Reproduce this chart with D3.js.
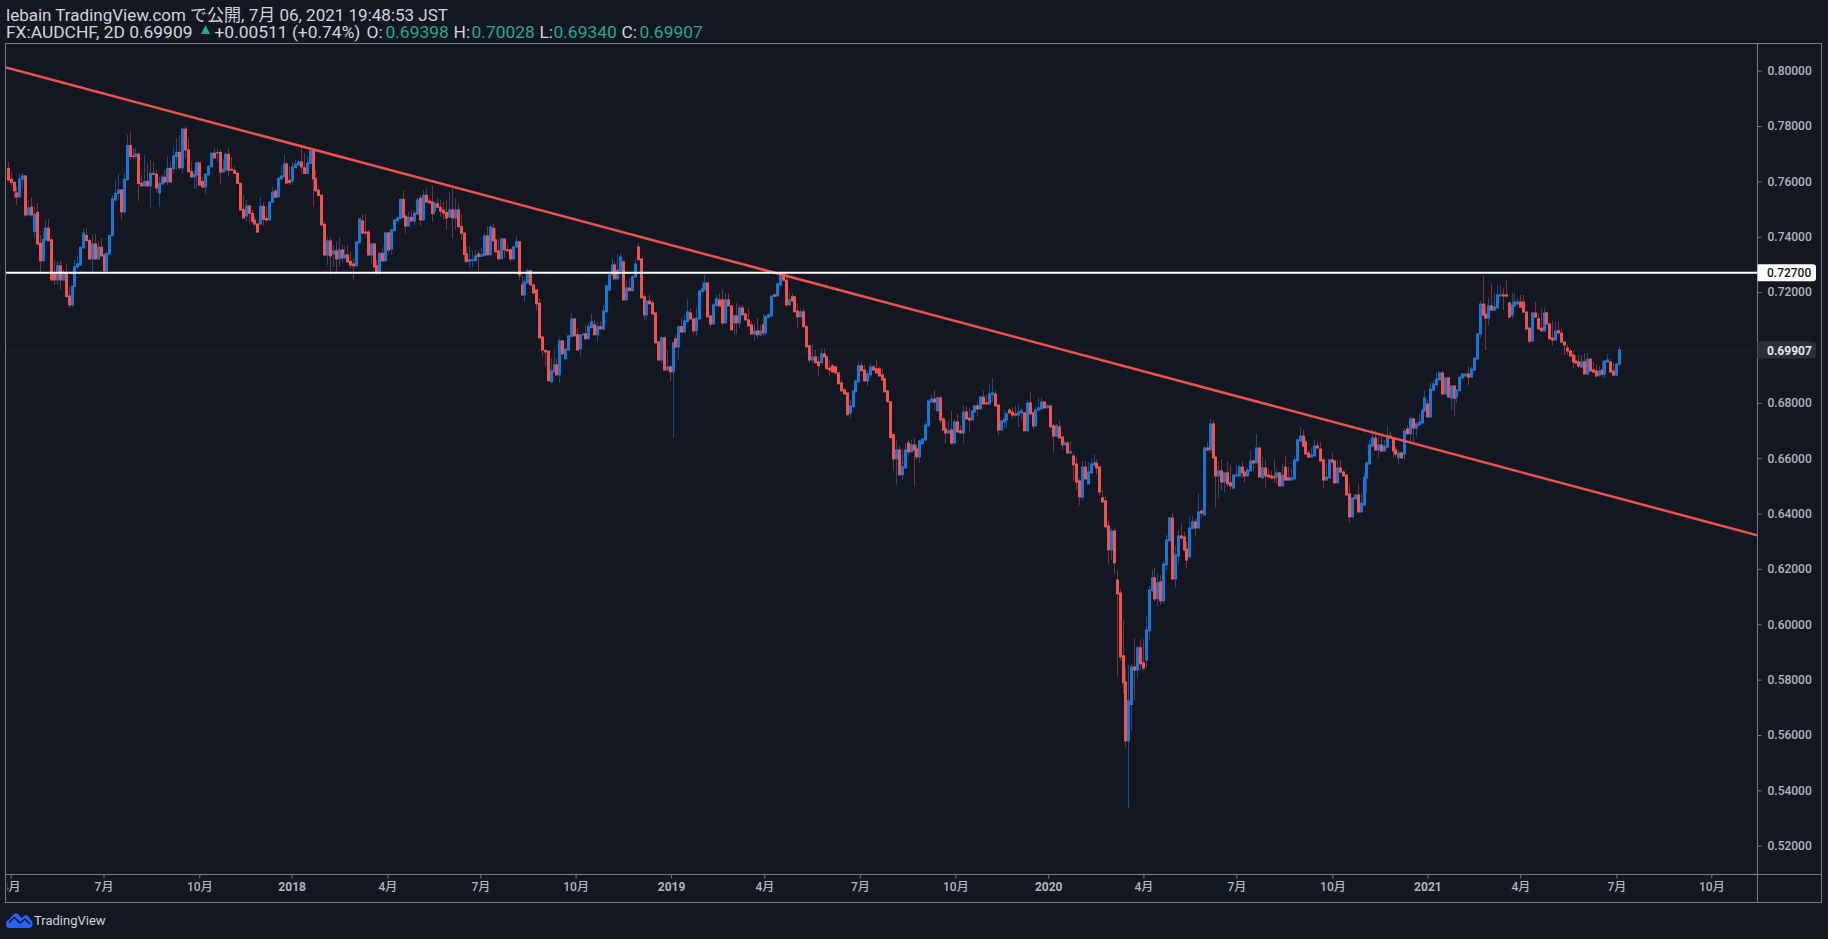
<!DOCTYPE html>
<html>
<head>
<meta charset="utf-8">
<script src="https://cdn.jsdelivr.net/npm/d3@7"></script>
<style>
  html, body { margin: 0; padding: 0; background: #131722; overflow: hidden; }
  text { font-family: Roboto, "Noto Sans CJK JP", sans-serif; }
</style>
</head>
<body>
<div id="chart"></div>
<script>
// two-day bars, oldest first
const opens = [
.7647,.7608,.7597,.7558,.7544,.7608,.7620,.7479,.7507,.7419,
.7488,.7377,.7313,.7389,.7431,.7389,.7271,.7244,.7295,.7244,
.7268,.7186,.7154,.7220,.7291,.7298,.7360,.7405,.7386,.7320,
.7374,.7320,.7362,.7334,.7277,.7338,.7404,.7533,.7557,.7569,
.7490,.7606,.7730,.7692,.7690,.7699,.7593,.7584,.7600,.7584,
.7629,.7626,.7558,.7591,.7615,.7598,.7647,.7646,.7690,.7705,
.7649,.7789,.7714,.7635,.7616,.7623,.7667,.7600,.7580,.7623,
.7653,.7702,.7702,.7705,.7634,.7641,.7698,.7644,.7640,.7629,
.7593,.7499,.7475,.7511,.7485,.7460,.7446,.7446,.7510,.7466,
.7461,.7525,.7565,.7544,.7609,.7617,.7663,.7604,.7602,.7650,
.7659,.7670,.7649,.7629,.7665,.7710,.7611,.7568,.7550,.7445,
.7334,.7385,.7338,.7349,.7320,.7352,.7324,.7334,.7311,.7302,
.7295,.7378,.7457,.7417,.7417,.7334,.7374,.7295,.7271,.7340,
.7313,.7414,.7356,.7422,.7458,.7466,.7535,.7474,.7439,.7470,
.7457,.7482,.7539,.7461,.7550,.7529,.7525,.7493,.7519,.7507,
.7496,.7488,.7472,.7497,.7468,
.7497,.7437,.7413,.7338,.7312,.7314,.7314,.7338,.7329,.7332,
.7403,.7335,.7431,.7389,.7349,.7320,.7392,.7353,.7353,.7320,
.7363,.7382,.7226,.7190,.7233,.7277,.7226,.7208,.7160,.7038,
.6989,.6987,.6876,.6912,.6937,.6901,.7024,.6959,.6991,.7040,
.7103,.7046,.6995,.7046,.7049,.7031,.7072,.7082,.7046,.7075,
.7067,.7129,.7208,.7262,.7298,.7248,.7277,.7309,.7172,.7215,
.7205,.7255,.7363,.7320,.7183,.7118,.7168,.7161,.7125,.7020,
.6955,.7035,.6919,.6930,.6912,.7031,.7002,.7075,.7056,.7094,
.7125,.7103,.7060,.7103,.7202,.7208,.7233,.7114,.7085,.7151,
.7172,.7172,.7089,.7172,.7150,.7089,.7114,.7089,.7143,.7121,
.7100,.7082,.7049,.7060,.7046,.7082,.7053,.7109,.7114,.7190,
.7186,.7226,.7259,.7243,.7154,.7183,.7183,.7132,.7111,.7129,
.7075,.7006,.6955,.6966,.6948,.6945,.6977,.6966,.6926,.6934,
.6930,.6908,.6872,.6847,.6836,.6764,.6786,.6840,.6876,.6934,
.6919,.6879,.6901,.6930,.6923,.6923,.6901,.6887,.6843,.6804,
.6685,.6598,
.6630,.6540,.6565,.6655,.6623,.6648,.6634,.6605,.6652,.6666,
.6717,.6803,.6814,.6771,.6818,.6742,.6706,.6691,.6702,.6655,
.6731,.6699,.6691,.6767,.6745,.6738,.6767,.6789,.6778,.6821,
.6800,.6796,.6829,.6832,.6792,.6702,.6731,.6738,.6774,.6767,
.6760,.6756,.6764,.6764,.6699,.6800,.6764,.6717,.6774,.6778,
.6803,.6782,.6789,.6717,.6680,.6713,.6677,.6648,.6655,.6619,
.6608,.6579,.6518,.6460,.6568,.6507,.6547,.6576,.6583,.6568,
.6457,.6446,.6355,.6269,.6337,.6160,.6113,.5886,.5792,.5579,
.5710,.5846,.5835,.5915,.5861,.5871,.5976,.6121,.6168,.6092,
.6153,.6085,.6215,.6301,.6384,.6164,.6247,
.6319,.6315,.6272,.6243,.6346,.6370,.6348,.6409,.6395,.6637,
.6630,.6724,.6604,.6536,.6554,.6514,.6547,.6511,.6492,.6536,
.6536,.6568,.6550,.6536,.6554,.6590,.6583,.6637,.6529,.6565,
.6539,.6536,.6532,.6532,.6547,.6500,.6568,.6529,.6521,.6525,
.6590,.6662,.6680,.6659,.6619,.6604,.6608,.6644,.6633,.6594,
.6521,.6529,.6594,.6590,.6511,.6565,.6550,.6539,.6471,.6388,
.6453,.6467,.6406,.6431,.6529,.6579,.6644,.6673,.6630,.6648,
.6626,.6640,.6680,.6673,.6630,.6601,.6619,.6615,.6706,.6688,
.6742,.6709,.6720,.6727,.6771,.6796,.6749,.6846,.6865,.6883,
.6908,.6832,.6890,.6817,.6861,.6821,.6844,.6890,.6897,.6904,
.6893,.6919,.6958,.7049,.7157,.7121,.7106,.7150,.7135,.7143,
.7186,.7190,.7190,.7161,.7117,.7150,.7157,.7164,.7164,.7128,
.7070,.7023,.7125,.7103,.7070,.7060,.7125,.7085,.7034,.7027,
.7060,.7052,.7020,.6998,.6987,.6973,.6951,.6948,.6929,.6948,
.6904,.6958,.6919,.6915,.6900,.6919,.6904,.6948,.6948,.6915,
.6900,.69398];
const highs = [
.7671,.7635,.7599,.7581,.7629,.7632,.7623,.7533,.7543,.7509,
.7521,.7407,.7419,.7461,.7464,.7395,.7319,.7310,.7316,.7280,
.7302,.7220,.7224,.7316,.7334,.7367,.7431,.7434,.7395,.7407,
.7410,.7383,.7395,.7340,.7343,.7407,.7551,.7608,.7629,.7572,
.7629,.7768,.7780,.7720,.7723,.7702,.7623,.7696,.7665,.7678,
.7671,.7641,.7617,.7623,.7641,.7690,.7671,.7726,.7756,.7768,
.7793,.7798,.7756,.7671,.7641,.7668,.7671,.7615,.7629,.7659,
.7704,.7720,.7720,.7716,.7680,.7704,.7720,.7687,.7653,.7635,
.7596,.7551,.7533,.7515,.7497,.7473,.7451,.7543,.7527,.7509,
.7527,.7581,.7575,.7615,.7659,.7696,.7668,.7653,.7671,.7678,
.7680,.7723,.7702,.7690,.7714,.7714,.7641,.7575,.7552,.7455,
.7401,.7398,.7370,.7383,.7398,.7370,.7364,.7370,.7346,.7322,
.7384,.7467,.7482,.7479,.7425,.7376,.7376,.7316,.7346,.7358,
.7419,.7416,.7427,.7463,.7473,.7539,.7567,.7479,.7491,.7497,
.7497,.7543,.7551,.7569,.7575,.7539,.7584,.7527,.7539,.7533,
.7527,.7533,.7563,.7575,.7539,
.7521,.7479,.7419,.7365,.7367,.7350,.7353,.7350,.7359,.7413,
.7437,.7444,.7447,.7431,.7391,.7395,.7395,.7374,.7359,.7367,
.7403,.7384,.7262,.7256,.7286,.7280,.7232,.7211,.7178,.7042,
.6994,.6989,.6961,.6989,.6961,.7034,.7025,.6997,.7046,.7124,
.7106,.7073,.7048,.7054,.7082,.7088,.7121,.7102,.7094,.7094,
.7154,.7226,.7268,.7322,.7310,.7340,.7343,.7317,.7244,.7250,
.7262,.7317,.7379,.7323,.7196,.7172,.7190,.7172,.7127,.7023,
.7040,.7040,.6989,.6936,.7019,.7046,.7077,.7106,.7118,.7174,
.7142,.7112,.7145,.7208,.7238,.7262,.7236,.7118,.7160,.7190,
.7194,.7211,.7198,.7196,.7153,.7121,.7160,.7154,.7154,.7126,
.7142,.7094,.7088,.7106,.7082,.7121,.7118,.7124,.7190,.7194,
.7235,.7266,.7262,.7262,.7202,.7196,.7185,.7157,.7142,.7142,
.7082,.7008,.7009,.6991,.6967,.6997,.6997,.6973,.6955,.6941,
.6934,.6911,.6883,.6853,.6839,.6811,.6847,.6883,.6949,.6949,
.6937,.6917,.6943,.6937,.6955,.6931,.6925,.6889,.6846,.6806,
.6687,.6666,
.6644,.6636,.6656,.6666,.6668,.6672,.6648,.6666,.6672,.6732,
.6813,.6829,.6847,.6823,.6825,.6748,.6735,.6735,.6771,.6741,
.6760,.6720,.6792,.6786,.6780,.6774,.6792,.6804,.6825,.6843,
.6829,.6865,.6889,.6843,.6795,.6738,.6774,.6768,.6780,.6784,
.6789,.6796,.6780,.6766,.6813,.6839,.6768,.6789,.6820,.6820,
.6806,.6796,.6791,.6724,.6724,.6736,.6679,.6662,.6662,.6660,
.6618,.6603,.6528,.6590,.6590,.6587,.6600,.6615,.6597,.6571,
.6485,.6461,.6379,.6347,.6347,.6196,.6128,.6016,.5840,.5853,
.5857,.5950,.5922,.5944,.5946,.6030,.6139,.6196,.6206,.6184,
.6178,.6227,.6323,.6387,.6401,.6283,.6341,
.6365,.6335,.6299,.6389,.6391,.6383,.6473,.6413,.6642,.6660,
.6741,.6738,.6607,.6588,.6594,.6548,.6588,.6575,.6543,.6575,
.6575,.6588,.6555,.6567,.6630,.6596,.6688,.6639,.6606,.6594,
.6563,.6557,.6596,.6563,.6551,.6579,.6606,.6570,.6563,.6606,
.6672,.6712,.6702,.6668,.6630,.6639,.6666,.6660,.6660,.6600,
.6581,.6596,.6620,.6592,.6594,.6594,.6555,.6542,.6507,.6459,
.6471,.6507,.6473,.6545,.6588,.6666,.6702,.6700,.6678,.6680,
.6666,.6716,.6696,.6675,.6642,.6630,.6624,.6708,.6720,.6750,
.6743,.6732,.6760,.6780,.6846,.6810,.6876,.6882,.6909,.6913,
.6915,.6892,.6892,.6863,.6863,.6849,.6896,.6907,.6907,.6931,
.6931,.6964,.7051,.7169,.7258,.7153,.7181,.7229,.7196,.7226,
.7226,.7214,.7241,.7162,.7196,.7198,.7178,.7190,.7190,.7131,
.7073,.7127,.7165,.7123,.7141,.7144,.7127,.7090,.7097,.7093,
.7097,.7069,.7022,.7009,.6997,.6988,.6973,.6973,.6973,.6979,
.6981,.6961,.6949,.6937,.6933,.6949,.6955,.6976,.6957,.6943,
.6945,.70028];
const lows = [
.7599,.7581,.7539,.7515,.7543,.7575,.7473,.7476,.7473,.7395,
.7370,.7274,.7310,.7383,.7383,.7242,.7226,.7226,.7208,.7240,
.7180,.7144,.7145,.7218,.7286,.7296,.7357,.7383,.7316,.7274,
.7316,.7316,.7326,.7274,.7273,.7335,.7402,.7528,.7533,.7461,
.7479,.7603,.7678,.7680,.7680,.7529,.7581,.7581,.7581,.7505,
.7623,.7559,.7507,.7586,.7593,.7587,.7596,.7629,.7641,.7644,
.7629,.7683,.7633,.7614,.7572,.7575,.7585,.7575,.7555,.7621,
.7651,.7682,.7671,.7593,.7632,.7639,.7617,.7638,.7626,.7591,
.7495,.7466,.7455,.7449,.7449,.7439,.7415,.7444,.7439,.7455,
.7458,.7522,.7540,.7541,.7606,.7615,.7592,.7587,.7587,.7647,
.7657,.7629,.7627,.7627,.7663,.7507,.7563,.7546,.7440,.7332,
.7298,.7262,.7292,.7272,.7292,.7310,.7319,.7307,.7286,.7242,
.7292,.7375,.7410,.7401,.7332,.7304,.7289,.7262,.7259,.7310,
.7310,.7340,.7334,.7420,.7456,.7463,.7468,.7413,.7437,.7455,
.7443,.7480,.7439,.7458,.7523,.7520,.7455,.7479,.7503,.7473,
.7461,.7425,.7467,.7393,.7425,
.7431,.7389,.7310,.7308,.7286,.7290,.7310,.7274,.7326,.7329,
.7332,.7332,.7383,.7343,.7318,.7318,.7323,.7347,.7310,.7318,
.7361,.7244,.7186,.7166,.7231,.7224,.7195,.7136,.7032,.6967,
.6931,.6877,.6873,.6910,.6899,.6873,.6973,.6957,.6989,.7037,
.7040,.6989,.6967,.7043,.7029,.7029,.7070,.7043,.7019,.7065,
.7065,.7126,.7206,.7260,.7246,.7246,.7275,.7170,.7170,.7202,
.7202,.7253,.7314,.7177,.7100,.7097,.7155,.7119,.7014,.6949,
.6943,.6917,.6917,.6878,.6674,.7000,.6955,.7054,.7054,.7091,
.7101,.7046,.7043,.7101,.7200,.7206,.7108,.7076,.7083,.7149,
.7148,.7078,.7087,.7148,.7061,.7046,.7046,.7070,.7115,.7097,
.7076,.7047,.7022,.7028,.7040,.7040,.7042,.7107,.7112,.7183,
.7184,.7224,.7241,.7145,.7152,.7166,.7126,.7073,.7108,.7072,
.7000,.6943,.6941,.6942,.6898,.6942,.6964,.6920,.6895,.6910,
.6906,.6866,.6841,.6830,.6754,.6746,.6783,.6837,.6873,.6913,
.6877,.6859,.6899,.6917,.6906,.6895,.6881,.6837,.6801,.6671,
.6554,.6504,
.6537,.6522,.6563,.6612,.6620,.6497,.6594,.6584,.6649,.6664,
.6714,.6801,.6774,.6768,.6726,.6700,.6653,.6688,.6648,.6648,
.6692,.6689,.6654,.6738,.6695,.6736,.6765,.6753,.6776,.6794,
.6794,.6794,.6804,.6786,.6684,.6700,.6708,.6708,.6759,.6744,
.6750,.6714,.6738,.6697,.6697,.6758,.6705,.6714,.6772,.6776,
.6779,.6779,.6711,.6620,.6676,.6671,.6630,.6646,.6617,.6617,
.6519,.6485,.6431,.6447,.6523,.6505,.6544,.6573,.6540,.6464,
.6440,.6349,.6218,.6233,.6182,.5811,.5868,.5749,.5554,.5337,
.5615,.5725,.5803,.5835,.5833,.5842,.5944,.6118,.6082,.6064,
.6070,.6076,.6194,.6299,.6158,.6131,.6214,
.6305,.6266,.6202,.6241,.6343,.6319,.6346,.6383,.6393,.6624,
.6618,.6598,.6421,.6455,.6485,.6476,.6497,.6485,.6488,.6533,
.6533,.6531,.6512,.6533,.6552,.6552,.6581,.6530,.6526,.6494,
.6530,.6526,.6512,.6507,.6498,.6498,.6519,.6519,.6519,.6523,
.6588,.6660,.6642,.6613,.6602,.6602,.6606,.6635,.6588,.6490,
.6519,.6526,.6584,.6508,.6508,.6545,.6533,.6465,.6367,.6385,
.6450,.6403,.6403,.6429,.6473,.6577,.6642,.6627,.6602,.6624,
.6624,.6638,.6671,.6600,.6603,.6579,.6598,.6594,.6685,.6654,
.6656,.6678,.6718,.6725,.6768,.6746,.6746,.6844,.6862,.6880,
.6830,.6830,.6819,.6774,.6750,.6800,.6842,.6887,.6895,.6864,
.6891,.6916,.6956,.7033,.7115,.6991,.7081,.7133,.7133,.7140,
.7184,.7135,.7184,.7108,.7104,.7148,.7155,.7144,.7126,.7064,
.7015,.7021,.7108,.7064,.7057,.7057,.7082,.7028,.7009,.7025,
.7050,.7018,.6973,.6973,.6967,.6924,.6941,.6925,.6927,.6902,
.6902,.6913,.6909,.6892,.6894,.6892,.6890,.6945,.6909,.6898,
.6898,.69340];
const closes = [
.7605,.7596,.7566,.7544,.7608,.7620,.7479,.7504,.7479,.7481,
.7374,.7313,.7391,.7431,.7386,.7244,.7244,.7295,.7244,.7268,
.7184,.7154,.7222,.7291,.7302,.7362,.7413,.7386,.7320,.7374,
.7320,.7362,.7331,.7277,.7340,.7405,.7537,.7557,.7569,.7490,
.7608,.7730,.7690,.7690,.7699,.7593,.7584,.7600,.7584,.7629,
.7626,.7576,.7593,.7615,.7598,.7647,.7598,.7692,.7705,.7649,
.7789,.7714,.7635,.7616,.7626,.7667,.7587,.7580,.7626,.7655,
.7702,.7685,.7705,.7634,.7644,.7698,.7641,.7640,.7629,.7593,
.7497,.7468,.7511,.7485,.7456,.7446,.7417,.7510,.7463,.7461,
.7525,.7561,.7543,.7611,.7620,.7663,.7594,.7596,.7652,.7662,
.7670,.7652,.7629,.7667,.7710,.7609,.7566,.7549,.7443,.7334,
.7385,.7331,.7349,.7320,.7352,.7324,.7334,.7309,.7298,.7295,
.7381,.7464,.7413,.7413,.7334,.7374,.7291,.7273,.7340,.7313,
.7414,.7352,.7425,.7461,.7468,.7535,.7470,.7439,.7470,.7457,
.7485,.7533,.7461,.7550,.7526,.7522,.7484,.7519,.7507,.7493,
.7486,.7468,.7497,.7468,.7497,
.7437,.7413,.7336,.7310,.7317,.7317,.7331,.7329,.7335,.7403,
.7335,.7436,.7385,.7345,.7320,.7392,.7353,.7349,.7320,.7363,
.7382,.7262,.7190,.7237,.7277,.7226,.7197,.7158,.7035,.6991,
.6984,.6880,.6916,.6937,.6901,.7024,.6977,.6994,.7042,.7103,
.7042,.6991,.7046,.7049,.7031,.7075,.7093,.7046,.7075,.7067,
.7132,.7223,.7262,.7298,.7248,.7280,.7327,.7172,.7215,.7205,
.7256,.7302,.7317,.7179,.7118,.7168,.7158,.7121,.7017,.6955,
.7035,.6919,.6930,.6912,.7017,.7002,.7075,.7056,.7096,.7129,
.7103,.7060,.7106,.7205,.7212,.7233,.7111,.7085,.7154,.7176,
.7150,.7089,.7172,.7150,.7064,.7114,.7089,.7143,.7118,.7100,
.7078,.7049,.7060,.7046,.7060,.7053,.7111,.7118,.7186,.7185,
.7230,.7262,.7243,.7154,.7172,.7168,.7129,.7111,.7129,.7075,
.7002,.6955,.6966,.6945,.6934,.6977,.6966,.6923,.6919,.6912,
.6908,.6869,.6843,.6832,.6757,.6789,.6843,.6879,.6934,.6916,
.6879,.6905,.6930,.6919,.6908,.6897,.6883,.6840,.6804,.6674,
.6598,.6630,
.6540,.6569,.6630,.6623,.6648,.6630,.6605,.6662,.6670,.6720,
.6807,.6814,.6803,.6818,.6738,.6702,.6691,.6699,.6655,.6731,
.6695,.6691,.6767,.6742,.6738,.6771,.6789,.6778,.6821,.6796,
.6796,.6832,.6836,.6789,.6702,.6735,.6742,.6760,.6764,.6756,
.6756,.6767,.6771,.6699,.6800,.6760,.6717,.6774,.6782,.6803,
.6782,.6789,.6713,.6680,.6717,.6673,.6648,.6655,.6619,.6623,
.6576,.6514,.6460,.6568,.6525,.6550,.6579,.6583,.6565,.6478,
.6442,.6352,.6269,.6337,.6222,.6110,.5882,.5788,.5579,.5723,
.5846,.5835,.5915,.5857,.5842,.5980,.6124,.6168,.6092,.6150,
.6085,.6218,.6305,.6384,.6164,.6251,.6319,
.6312,.6269,.6232,.6348,.6370,.6348,.6406,.6402,.6637,.6630,
.6724,.6601,.6536,.6554,.6514,.6547,.6507,.6500,.6539,.6539,
.6568,.6547,.6536,.6557,.6590,.6583,.6637,.6532,.6565,.6536,
.6532,.6529,.6529,.6547,.6500,.6539,.6521,.6521,.6529,.6594,
.6666,.6680,.6644,.6615,.6604,.6612,.6644,.6637,.6590,.6521,
.6532,.6594,.6586,.6511,.6565,.6550,.6536,.6467,.6388,.6456,
.6467,.6406,.6438,.6532,.6583,.6648,.6673,.6630,.6648,.6626,
.6644,.6680,.6673,.6626,.6615,.6619,.6601,.6698,.6688,.6742,
.6709,.6724,.6731,.6774,.6818,.6749,.6850,.6868,.6886,.6908,
.6832,.6890,.6821,.6861,.6817,.6846,.6893,.6904,.6904,.6893,
.6922,.6962,.7049,.7157,.7117,.7106,.7150,.7135,.7146,.7190,
.7190,.7186,.7186,.7110,.7153,.7164,.7164,.7146,.7128,.7067,
.7023,.7125,.7110,.7067,.7060,.7125,.7085,.7031,.7027,.7060,
.7052,.7020,.7009,.6987,.6969,.6948,.6944,.6933,.6948,.6904,
.6958,.6915,.6911,.6897,.6915,.6904,.6951,.6955,.6911,.6900,
.6940,.69909];

const priceTicks = [.80, .78, .76, .74, .72, .68, .66, .64, .62, .60, .58, .56, .54, .52];
// positions are in bars, fractions because the drawn bars are evenly spread
const timeTicks = [1, 33, 66, 97.8, 130.8, 162.8, 195.6, 228.5, 260.6, 293.5, 326.4, 358.4, 391.2, 423.2, 456.3, 489, 521, 554.1, 586.8];
const timeLabels = ["4月", "7月", "10月", "2018", "4月", "7月", "10月", "2019", "4月", "7月", "10月", "2020", "4月", "7月", "10月", "2021", "4月", "7月", "10月"];
const yearLabels = ["2018", "2019", "2020", "2021"];

// the drawn trend line and horizontal level
const trendIndex = [-0.6, 603.2];
const trendPrice = [0.8012, 0.6320];
const levelPrice = 0.727;
const lastPrice = 0.69907;

var width = 1828;
var height = 939;

// chart frame
var plotLeft = 6, plotTop = 43.5, plotRight = 1757.5, plotBottom = 874.5;
var frameRight = 1821.5, frameBottom = 902.5;

var upColor = "#1976d2", downColor = "#ef5350";
var upWick = "#1c4b82", downWick = "#7a3238";
var lineColor = "#787b86", textColor = "#b2b5be";

var svg = d3.select("#chart").append("svg")
  .attr("width", width)
  .attr("height", height)
  .style("display", "block");

svg.append("clipPath").attr("id", "plotClip").append("rect")
  .attr("x", plotLeft).attr("y", plotTop)
  .attr("width", plotRight - plotLeft).attr("height", plotBottom - plotTop);

var x = d3.scaleLinear().domain([0, closes.length - 1]).range([7.7, 1619]);
var y = d3.scaleLinear().domain([0.52, 0.80]).range([845.7, 70.7]);

// frame
var frame = svg.append("g").attr("stroke", lineColor).attr("fill", "none");
frame.append("rect")
  .attr("x", plotLeft - 0.5).attr("y", plotTop)
  .attr("width", frameRight - plotLeft + 0.5).attr("height", frameBottom - plotTop);
frame.append("line").attr("x1", plotLeft).attr("x2", frameRight).attr("y1", plotBottom).attr("y2", plotBottom);
frame.append("line").attr("x1", plotRight).attr("x2", plotRight).attr("y1", plotTop).attr("y2", frameBottom);

var plot = svg.append("g").attr("clip-path", "url(#plotClip)");

// last price dotted line
plot.append("line")
  .attr("x1", plotLeft).attr("x2", plotRight)
  .attr("y1", y(lastPrice)).attr("y2", y(lastPrice))
  .attr("stroke", "#363a45")
  .attr("stroke-dasharray", "1 3");

// candles
var candle = plot.selectAll(".candle")
  .data(closes.map(function (c, i) { return i; }))
  .enter().append("g")
  .attr("class", "candle");

candle.append("line")
  .attr("x1", function (i) { return Math.round(x(i)) + 0.5; })
  .attr("x2", function (i) { return Math.round(x(i)) + 0.5; })
  .attr("y1", function (i) { return y(highs[i]); })
  .attr("y2", function (i) { return y(lows[i]); })
  .attr("stroke", function (i) { return closes[i] >= opens[i] ? upWick : downWick; });

candle.append("rect")
  .attr("x", function (i) { return Math.round(x(i)) - 1; })
  .attr("width", 3)
  .attr("y", function (i) { return y(Math.max(opens[i], closes[i])) - 0.5; })
  .attr("height", function (i) { return Math.abs(y(opens[i]) - y(closes[i])) + 1; })
  .attr("fill", function (i) { return closes[i] >= opens[i] ? upColor : downColor; });

// trend line and level
plot.append("line")
  .attr("x1", x(trendIndex[0])).attr("y1", y(trendPrice[0]))
  .attr("x2", x(trendIndex[1])).attr("y2", y(trendPrice[1]))
  .attr("stroke", downColor).attr("stroke-width", 2.5);

plot.append("line")
  .attr("x1", plotLeft).attr("x2", plotRight)
  .attr("y1", y(levelPrice)).attr("y2", y(levelPrice))
  .attr("stroke", "#ffffff").attr("stroke-width", 2);

// price axis
var yAxis = d3.axisRight(y)
  .tickValues(priceTicks)
  .tickSize(4)
  .tickPadding(6)
  .tickFormat(d3.format(".5f"));

var yAxisG = svg.append("g")
  .attr("transform", "translate(" + plotRight + ",0)")
  .call(yAxis);
yAxisG.select(".domain").remove();
yAxisG.selectAll("line").attr("stroke", lineColor);
yAxisG.selectAll("text")
  .attr("fill", textColor)
  .attr("font-size", 12)
  .attr("font-weight", 500)
  .style("font-family", "Roboto, sans-serif");

// time axis, clipped so the first label is cut like in the picture
var xAxis = d3.axisBottom(x)
  .tickValues(timeTicks)
  .tickSize(4)
  .tickPadding(4)
  .tickFormat(function (d, i) { return timeLabels[i]; });

var xAxisG = svg.append("g")
  .attr("clip-path", "url(#xClip)")
  .attr("transform", "translate(0," + plotBottom + ")")
  .call(xAxis);
svg.append("clipPath").attr("id", "xClip").append("rect")
  .attr("x", 7.5).attr("y", 0)
  .attr("width", plotRight - 7.5).attr("height", frameBottom - plotBottom);
xAxisG.select(".domain").remove();
xAxisG.selectAll("line").attr("stroke", lineColor);
xAxisG.selectAll("text")
  .attr("fill", textColor)
  .attr("font-size", 12)
  .attr("font-weight", function (d, i) { return yearLabels.indexOf(timeLabels[i]) >= 0 ? 700 : 500; })
  .style("font-family", "Roboto, 'Noto Sans CJK JP', sans-serif");

// price labels on the axis
function priceTag(price, fill, color, weight) {
  var tagY = y(price);
  svg.append("path")
    .attr("d", "M" + plotRight + "," + (tagY - 8.5) + "H1813a3,3 0 0 1 3,3V" + (tagY + 5.5) + "a3,3 0 0 1 -3,3H" + plotRight + "Z")
    .attr("fill", fill);
  svg.append("text")
    .attr("x", 1767).attr("y", tagY + 4.5)
    .attr("font-size", 12)
    .attr("font-weight", weight)
    .attr("fill", color)
    .text(d3.format(".5f")(price));
}
priceTag(levelPrice, "#ffffff", "#131722", 500);
priceTag(lastPrice, "#2a2e39", "#e6e7ea", 700);

// header
var headerColor = "#d1d4dc", greenColor = "#26a69a";
function headerText(tx, ty, str, color, size) {
  svg.append("text")
    .attr("x", tx).attr("y", ty)
    .attr("font-size", size)
    .attr("fill", color)
    .text(str);
}
headerText(6, 21, "lebain TradingView.com で公開, 7月 06, 2021 19:48:53 JST", headerColor, 17);
headerText(6, 38, "FX:AUDCHF, 2D 0.69909", headerColor, 17.4);
svg.append("path").attr("d", "M201,34L205.5,25L210,34Z").attr("fill", greenColor);
headerText(214.5, 38, "+0.00511 (+0.74%)", headerColor, 17.4);
headerText(366.5, 38, "O:", headerColor, 17.4);
headerText(385.5, 38, "0.69398", greenColor, 17.4);
headerText(453.5, 38, "H:", headerColor, 17.4);
headerText(471.5, 38, "0.70028", greenColor, 17.4);
headerText(539.5, 38, "L:", headerColor, 17.4);
headerText(553.5, 38, "0.69340", greenColor, 17.4);
headerText(621.5, 38, "C:", headerColor, 17.4);
headerText(639.5, 38, "0.69907", greenColor, 17.4);

// TradingView logo, bottom left
var logo = svg.append("g").attr("transform", "translate(6,913)");
logo.append("path")
  .attr("d", "M0,11 C0,8 2,7 3,6.5 L8,1 C9,0 11,0 12,1 L15.5,5 L18,3 C19,2 21,2 22,3 L25,7 C26.5,8 26.5,9.5 26.5,11 C26.5,13.5 25,15 23,15 L3,15 C1,15 0,13.5 0,11 Z")
  .attr("fill", "#2962ff");
logo.append("path")
  .attr("d", "M3,9.5 L8.5,4.5 L14,10 L19,6 L24,11")
  .attr("fill", "none").attr("stroke", "#131722").attr("stroke-width", 1.6);
svg.append("text")
  .attr("x", 34).attr("y", 925)
  .attr("font-size", 13)
  .attr("fill", "#d1d4dc")
  .text("TradingView");
</script>
</body>
</html>
